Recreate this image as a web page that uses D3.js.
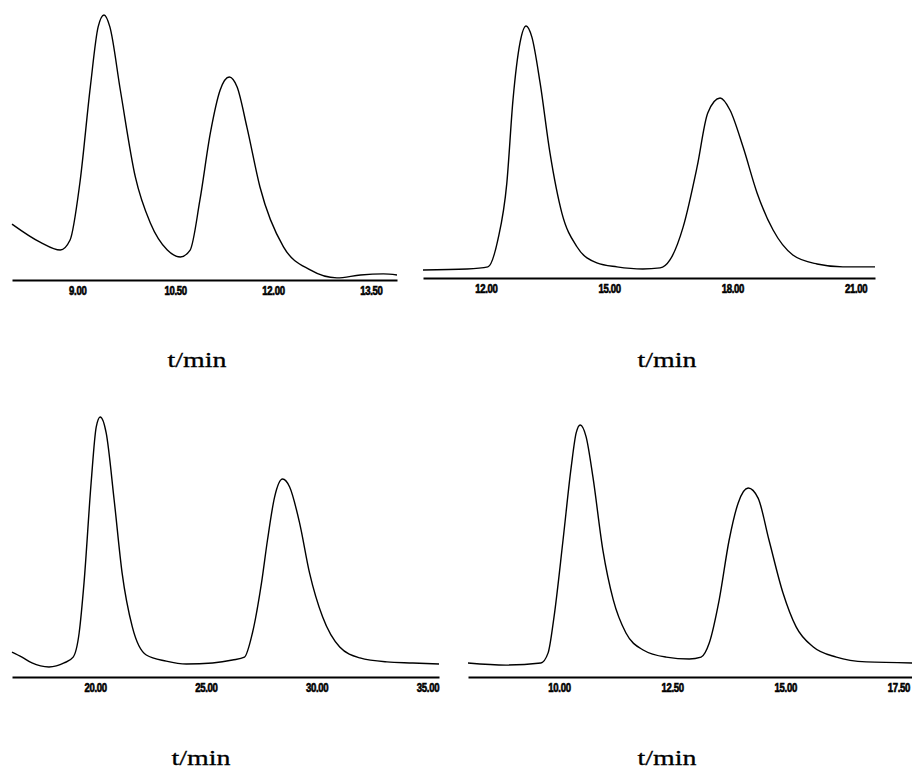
<!DOCTYPE html>
<html>
<head>
<meta charset="utf-8">
<script src="https://cdn.jsdelivr.net/npm/d3@7"></script>
<style>
    body { margin: 0; background: #fff; }
    svg { display: block; background: #fff; }
</style>
</head>
<body>
<svg width="912" height="773"></svg>
<script>
// chromatogram data (t in min, signal in arbitrary units)
const timesA = [8.00, 8.43, 8.74, 8.89, 9.04, 9.20, 9.32, 9.41, 9.50, 9.66, 9.89, 10.12, 10.38, 10.58, 10.73, 10.88, 11.04, 11.19, 11.33, 11.45, 11.60, 11.80, 12.16, 12.57, 12.98, 13.34, 13.69, 13.90];
const signalA = [21.1, 14.3, 11.3, 15.1, 36.6, 72.8, 95.5, 100, 95.5, 71.7, 38.9, 21.5, 11.3, 8.7, 11.3, 30.2, 55.5, 71.7, 76.6, 72.8, 57.7, 35.1, 12.5, 3.8, 0.8, 1.9, 2.3, 1.9];
const ticksA = [9, 10.5, 12, 13.5];

const timesB = [10.47, 11.54, 12.05, 12.29, 12.51, 12.66, 12.83, 12.98, 13.12, 13.32, 13.56, 13.85, 14.22, 14.70, 15.19, 15.82, 16.24, 16.48, 16.80, 17.14, 17.40, 17.70, 17.94, 18.26, 18.60, 18.99, 19.47, 20.06, 20.69, 21.47];
const signalB = [3.0, 3.4, 4.2, 14.3, 35.8, 67.2, 88.7, 95.1, 90.9, 73.6, 47.2, 24.5, 11.7, 5.7, 4.2, 3.4, 3.8, 6.8, 19.2, 41.9, 62.3, 67.9, 63.4, 49.4, 32.1, 18.1, 8.7, 5.3, 4.2, 4.2];
const ticksB = [12, 15, 18, 21];

const timesC = [16.25, 16.70, 17.15, 17.92, 18.60, 19.01, 19.28, 19.50, 19.82, 20.05, 20.23, 20.50, 20.86, 21.22, 21.68, 22.31, 23.21, 24.12, 25.30, 26.20, 26.74, 27.10, 27.51, 27.78, 28.10, 28.46, 28.78, 29.23, 29.68, 30.27, 31.04, 31.95, 33.17, 34.34, 35.52];
const signalC = [9.4, 7.5, 5.3, 3.8, 5.3, 7.5, 16.6, 35.5, 73.2, 94.3, 98.1, 92.1, 66.8, 39.2, 18.9, 8.3, 6.0, 4.9, 5.3, 6.4, 7.5, 16.6, 35.5, 51.7, 67.9, 74.7, 71.7, 58.1, 39.2, 22.6, 11.3, 7.2, 5.7, 5.3, 4.9];
const ticksC = [20, 25, 30, 35];

const timesD = [7.99, 8.83, 9.60, 9.76, 9.89, 10.09, 10.27, 10.38, 10.47, 10.60, 10.75, 10.97, 11.20, 11.48, 11.86, 12.37, 12.88, 13.14, 13.32, 13.54, 13.76, 13.96, 14.18, 14.40, 14.64, 14.95, 15.24, 15.62, 16.13, 16.79, 17.80];
const signalD = [5.3, 4.5, 5.3, 9.1, 22.6, 51.7, 79.2, 92.1, 95.1, 90.6, 75.5, 47.9, 29.1, 16.6, 10.2, 7.5, 6.8, 7.5, 12.8, 29.1, 51.7, 65.7, 71.3, 67.5, 51.7, 31.7, 18.9, 11.3, 7.5, 5.7, 5.3];
const ticksD = [10, 12.5, 15, 17.5];

const axisLabel = 't/min';

const svg = d3.select('svg');
const fmt = d3.format('.2f');

// layout of the four panels (pixel boxes, not data)
const panels = [
    {t: timesA, s: signalA, ticks: ticksA, x0: 12, x1: 397, axisY: 280, labelX: 197, labelY: 367},
    {t: timesB, s: signalB, ticks: ticksB, x0: 423, x1: 875, axisY: 278, labelX: 667, labelY: 367},
    {t: timesC, s: signalC, ticks: ticksC, x0: 12, x1: 439, axisY: 677, labelX: 201, labelY: 765},
    {t: timesD, s: signalD, ticks: ticksD, x0: 468, x1: 912, axisY: 677, labelX: 667, labelY: 765}
];

panels.forEach(function (p) {
    const x = d3.scaleLinear()
        .domain([p.t[0], p.t[p.t.length - 1]])
        .range([p.x0, p.x1]);
    const y = d3.scaleLinear()
        .domain([0, 100])
        .range([p.axisY, p.axisY - 265]);

    const pts = p.t.map((t, i) => [t, p.s[i]]);

    const line = d3.line()
        .x(d => x(d[0]))
        .y(d => y(d[1]))
        .curve(d3.curveMonotoneX);

    svg.append('path')
        .datum(pts)
        .attr('d', line)
        .attr('fill', 'none')
        .attr('stroke', '#000')
        .attr('stroke-width', 1.4)
        .attr('stroke-linejoin', 'round');

    const axis = svg.append('g')
        .attr('transform', `translate(0,${p.axisY})`)
        .call(d3.axisBottom(x)
            .tickValues(p.ticks)
            .tickFormat(fmt)
            .tickSizeInner(0)
            .tickSizeOuter(0)
            .tickPadding(6));

    axis.select('.domain')
        .attr('stroke', '#000')
        .attr('stroke-width', 2);

    // heavy, squeezed tick labels like the scanned original
    axis.selectAll('text')
        .attr('fill', '#000')
        .attr('stroke', '#000')
        .attr('stroke-width', 0.6)
        .attr('font-family', '"Liberation Sans", Arial, sans-serif')
        .attr('font-weight', 'bold')
        .attr('font-size', 12)
        .attr('letter-spacing', -0.4)
        .attr('transform', 'scale(0.8,1)');

    svg.append('text')
        .attr('x', p.labelX)
        .attr('y', p.labelY)
        .attr('text-anchor', 'middle')
        .attr('font-family', '"Liberation Serif", "Times New Roman", serif')
        .attr('font-size', 22)
        .attr('textLength', 59)
        .attr('lengthAdjust', 'spacingAndGlyphs')
        .attr('stroke', '#000')
        .attr('stroke-width', 0.3)
        .text(axisLabel);
});
</script>
</body>
</html>
